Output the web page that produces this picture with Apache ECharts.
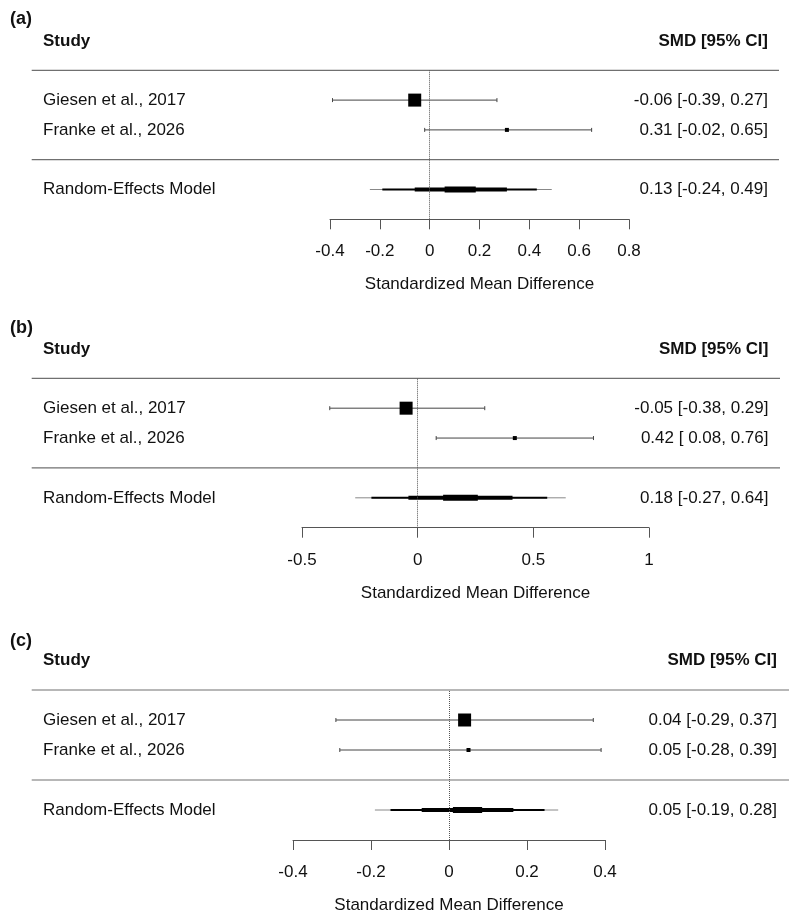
<!DOCTYPE html>
<html>
<head>
<meta charset="utf-8">
<script src="https://cdn.jsdelivr.net/npm/echarts@6/dist/echarts.min.js"></script>
<style>
  html, body { margin: 0; padding: 0; background: #fff; }
  #main { width: 800px; height: 921px; }
</style>
</head>
<body>
<div id="main"></div>
<script>
// ---- data ----
var studyNames = ['Giesen et al., 2017', 'Franke et al., 2026'];
var reName = 'Random-Effects Model';

// (a)
var estA = [-0.06, 0.31];
var lowA = [-0.39, -0.02];
var highA = [0.27, 0.65];
var reA = [0.13, -0.24, 0.49];              // estimate, lower, upper
var bandsA = [[-0.19, 0.43], [-0.06, 0.31], [0.06, 0.185]];
var ticksA = [-0.4, -0.2, 0, 0.2, 0.4, 0.6, 0.8];

// (b)
var estB = [-0.05, 0.42];
var lowB = [-0.38, 0.08];
var highB = [0.29, 0.76];
var reB = [0.18, -0.27, 0.64];
var bandsB = [[-0.20, 0.56], [-0.04, 0.41], [0.11, 0.26]];
var ticksB = [-0.5, 0, 0.5, 1];

// (c)
var estC = [0.04, 0.05];
var lowC = [-0.29, -0.28];
var highC = [0.37, 0.39];
var reC = [0.05, -0.19, 0.28];
var bandsC = [[-0.15, 0.245], [-0.07, 0.165], [0.01, 0.085]];
var ticksC = [-0.4, -0.2, 0, 0.2, 0.4];

var studyRows = [4, 3];   // y positions of the study rows
var reRow = 1;

// ---- styling / layout ----
var FONT = '"Liberation Sans", Arial, sans-serif';
var TXT = '#111';
var BOX_SIZE = [13, 4];
var BAND_WIDTH = [2, 4, 6];
var NAME_X = 43;

var panels = [
  { tag: '(a)', est: estA, low: lowA, high: highA, re: reA, bands: bandsA, ticks: ticksA,
    grid: { left: 330, width: 299, top: 70.3, height: 149 }, labelRight: 768, lineRight: 779, tagY: 20, headY: 41.7 },
  { tag: '(b)', est: estB, low: lowB, high: highB, re: reB, bands: bandsB, ticks: ticksB,
    grid: { left: 302, width: 347, top: 378.3, height: 149.4 }, labelRight: 768.5, lineRight: 780, tagY: 329.3, headY: 349.3 },
  { tag: '(c)', est: estC, low: lowC, high: highC, re: reC, bands: bandsC, ticks: ticksC,
    grid: { left: 293, width: 312, top: 690, height: 150 }, labelRight: 777, lineRight: 789, tagY: 641.7, headY: 660 }
];

function f2(v) { return v.toFixed(2); }
function padCol(vals) {
  var s = vals.map(f2);
  var w = Math.max.apply(null, s.map(function (x) { return x.length; }));
  return s.map(function (x) { while (x.length < w) x = ' ' + x; return x; });
}
function ciLabels(p) {
  var e = padCol(p.est.concat([p.re[0]]));
  var l = padCol(p.low.concat([p.re[1]]));
  var h = padCol(p.high.concat([p.re[2]]));
  return e.map(function (x, i) { return (x + ' [' + l[i] + ', ' + h[i] + ']').replace(/^ +/, ''); });
}

var grids = [], xAxes = [], yAxes = [], series = [], graphics = [];

panels.forEach(function (p, k) {
  var labels = ciLabels(p);
  grids.push(p.grid);
  xAxes.push({
    type: 'value', gridIndex: k,
    min: p.ticks[0], max: p.ticks[p.ticks.length - 1], interval: p.ticks[1] - p.ticks[0],
    axisLine: { show: true, onZero: false, lineStyle: { color: '#555', width: 1 } },
    axisTick: { show: true, length: 10, lineStyle: { color: '#555', width: 1 } },
    axisLabel: { color: TXT, fontSize: 17, fontFamily: FONT, margin: 24 },
    splitLine: { show: false },
    name: 'Standardized Mean Difference', nameLocation: 'middle', nameGap: 57,
    nameTextStyle: { color: TXT, fontSize: 17, fontFamily: FONT }
  });
  yAxes.push({ type: 'value', gridIndex: k, min: 0, max: 5, show: false });

  // individual studies
  var sData = p.est.map(function (e, i) {
    return [p.low[i], p.high[i], e, studyRows[i]];
  });
  series.push({
    type: 'custom', xAxisIndex: k, yAxisIndex: k, clip: false, silent: true,
    data: sData,
    renderItem: function (params, api) {
      var i = params.dataIndex;
      var a = api.coord([api.value(0), api.value(3)]);
      var b = api.coord([api.value(1), api.value(3)]);
      var c = api.coord([api.value(2), api.value(3)]);
      var s = BOX_SIZE[i];
      var stroke = { stroke: '#444', lineWidth: 1 };
      return { type: 'group', children: [
        { type: 'line', shape: { x1: a[0], y1: a[1], x2: b[0], y2: b[1] }, style: stroke },
        { type: 'line', shape: { x1: a[0], y1: a[1] - 2, x2: a[0], y2: a[1] + 2 }, style: stroke },
        { type: 'line', shape: { x1: b[0], y1: b[1] - 2, x2: b[0], y2: b[1] + 2 }, style: stroke },
        { type: 'rect', shape: { x: c[0] - s / 2, y: c[1] - s / 2, width: s, height: s }, style: { fill: '#000' } },
        { type: 'text', style: { x: NAME_X, y: c[1], text: studyNames[i], fill: TXT, font: '17px ' + FONT, verticalAlign: 'middle', align: 'left' } },
        { type: 'text', style: { x: p.labelRight, y: c[1], text: labels[i], fill: TXT, font: '17px ' + FONT, verticalAlign: 'middle', align: 'right' } }
      ] };
    },
    markLine: {
      silent: true, symbol: 'none', label: { show: false },
      lineStyle: { color: '#555', type: 'dotted', width: 1 },
      data: [{ xAxis: 0 }]
    }
  });

  // random-effects summary: CI line plus nested bands
  var reData = [[p.re[1], p.re[2], reRow, -1]].concat(p.bands.map(function (bd, j) {
    return [bd[0], bd[1], reRow, j];
  }));
  series.push({
    type: 'custom', xAxisIndex: k, yAxisIndex: k, clip: false, silent: true,
    data: reData,
    renderItem: function (params, api) {
      var lvl = api.value(3);
      var a = api.coord([api.value(0), api.value(2)]);
      var b = api.coord([api.value(1), api.value(2)]);
      var children = [{ type: 'line', shape: { x1: a[0], y1: a[1], x2: b[0], y2: b[1] },
        style: { stroke: lvl < 0 ? '#888' : '#000', lineWidth: lvl < 0 ? 1 : BAND_WIDTH[lvl] } }];
      if (lvl < 0) {
        children.push({ type: 'text', style: { x: NAME_X, y: a[1], text: reName, fill: TXT, font: '17px ' + FONT, verticalAlign: 'middle', align: 'left' } });
        children.push({ type: 'text', style: { x: p.labelRight, y: a[1], text: labels[labels.length - 1], fill: TXT, font: '17px ' + FONT, verticalAlign: 'middle', align: 'right' } });
      }
      return { type: 'group', children: children };
    }
  });

  // headers and separators
  var top = p.grid.top;
  var rowH = p.grid.height / 5;
  graphics.push(
    { type: 'text', left: 10, top: p.tagY - 10, style: { text: p.tag, fill: TXT, font: 'bold 18px ' + FONT } },
    { type: 'text', x: NAME_X, y: p.headY, style: { text: 'Study', fill: TXT, font: 'bold 17px ' + FONT, verticalAlign: 'middle', align: 'left' } },
    { type: 'text', x: p.labelRight, y: p.headY, style: { text: 'SMD [95% CI]', fill: TXT, font: 'bold 17px ' + FONT, verticalAlign: 'middle', align: 'right' } },
    { type: 'line', shape: { x1: 31.7, y1: top, x2: p.lineRight, y2: top }, style: { stroke: '#707070', lineWidth: 1.2 } },
    { type: 'line', shape: { x1: 31.7, y1: top + 3 * rowH, x2: p.lineRight, y2: top + 3 * rowH }, style: { stroke: '#707070', lineWidth: 1.2 } }
  );
});

var chart = echarts.init(document.getElementById('main'), null, { renderer: 'canvas' });
chart.setOption({
  backgroundColor: '#fff',
  animation: false,
  grid: grids,
  xAxis: xAxes,
  yAxis: yAxes,
  series: series,
  graphic: graphics
});
</script>
</body>
</html>
